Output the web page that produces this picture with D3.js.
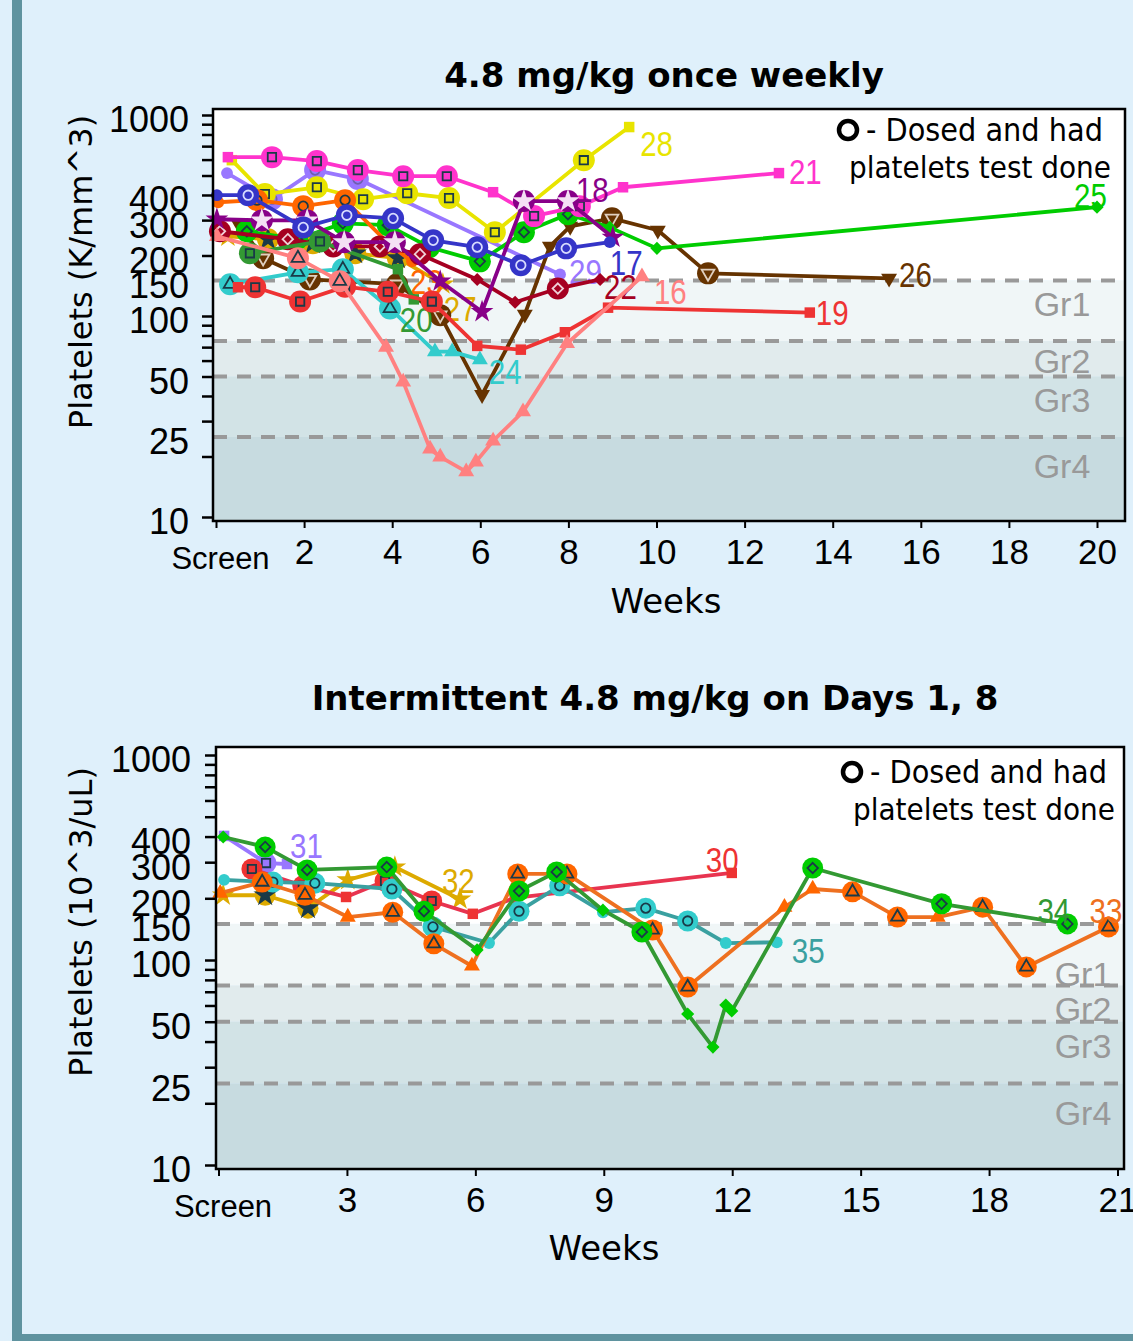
<!DOCTYPE html>
<html>
<head>
<meta charset="utf-8">
<script src="https://cdn.jsdelivr.net/npm/d3@7"></script>
<style>
  body { margin: 0; background: #dff0fb; }
  svg { display: block; }
  .tick text { font-family: "Liberation Sans", Arial, sans-serif; fill: #000; }
</style>
</head>
<body>
<div id="chart"></div>
<script>
// each point: [week, platelets, dosed (1 = ringed marker)]
// --- 4.8 mg/kg once weekly ---
const p16 = [[0.02,249,0],[1.86,194,1],[2.81,149,1],[3.86,70,0],[4.25,47,0],[4.86,21.8,0],[5.09,19.9,0],[5.68,16.8,0],[5.90,18.8,0],[6.29,23.9,0],[6.97,33.4,0],[7.97,73,0],[9.67,157,0]];
const p17 = [[0.02,399,0],[0.73,399,1],[1.98,276,1],[2.97,317,1],[4.02,306,1],[4.93,238,1],[5.93,220,1],[6.92,179,1],[7.95,217,1],[8.94,233,0]];
const p18 = [[0.02,303,0],[1.04,299,1],[2.07,299,1],[2.91,233,1],[4.06,233,1],[5.09,149,0],[6.04,105,0],[6.99,373,1],[7.99,373,1],[9.01,246,0]];
const p19 = [[0.50,139,0],[0.89,139,1],[1.91,118,1],[2.93,140,1],[3.90,132,1],[4.90,118,1],[5.93,71,0],[6.92,68,0],[7.92,83,0],[8.90,110,0],[13.48,104,0]];
const p20 = [[0.77,205,1],[2.36,235,1],[4.13,171,0],[4.49,121,0]];
const p21 = [[0.27,617,0],[1.27,617,1],[2.29,590,1],[3.22,532,1],[4.25,496,1],[5.24,496,1],[6.29,413,0],[7.22,314,1],[8.26,352,1],[9.24,437,0],[12.78,514,0]];
const p22 = [[0.09,264,1],[1.63,241,1],[2.66,222,1],[3.72,222,1],[4.63,203,1],[5.93,152,0],[6.79,117,0],[7.76,137,1],[8.72,152,0]];
const p23 = [[0.05,368,0],[0.93,377,1],[1.98,352,1],[2.93,377,1],[3.95,225,0],[4.45,187,0]];
const p24 = [[0.32,144,1],[1.86,165,1],[2.88,171,1],[3.95,109,1],[4.97,66.5,0],[5.36,66.5,0],[5.99,60.7,0]];
const p25 = [[0.70,264,1],[1.84,241,1],[2.88,289,1],[3.90,283,1],[4.84,220,1],[5.99,187,1],[6.99,261,1],[7.99,321,1],[8.94,276,0],[10.01,217,0],[20.0,348,0]];
const p26 = [[0.50,290,0],[1.07,194,1],[2.13,152,1],[4.11,144,1],[5.09,101,1],[6.04,40.6,0],[7.01,102,0],[7.58,222,0],[8.04,279,0],[8.99,306,1],[10.03,267,0],[11.17,163,1],[15.28,154,0]];
const p27 = [[0.27,249,0],[1.18,241,1],[2.20,230,1],[3.16,205,1],[4.13,194,1],[5.15,144,0]];
const p28 = [[0.36,596,0],[1.11,404,1],[2.29,437,1],[3.34,381,1],[4.34,408,1],[5.29,386,1],[6.33,261,1],[8.35,596,1],[9.38,871,0]];
const p29 = [[0.25,514,0],[1.27,381,1],[2.25,532,1],[3.22,480,1],[7.81,161,0]];

// --- Intermittent 4.8 mg/kg on Days 1, 8 ---
const p30 = [[0.78,278,1],[1.97,230,1],[2.98,203,0],[3.89,243,1],[4.98,194,1],[5.94,168,0],[6.92,201,0],[11.99,266,0]];
const p31 = [[0.13,403,0],[1.11,297,1],[1.60,294,0]];
const p32 = [[0.11,207,0],[1.09,207,1],[2.09,179,1],[3.02,246,0],[4.12,284,0],[5.64,198,0]];
const p33 = [[0.04,212,0],[1.02,240,1],[2.02,207,1],[3.02,162,0],[4.07,171,1],[5.03,120,1],[5.92,93.5,0],[6.99,263,1],[8.14,263,1],[10.14,140,1],[10.96,73.8,1],[13.22,181,0],[13.88,222,0],[14.81,215,1],[15.86,162,1],[16.80,162,0],[17.85,181,1],[18.87,92.5,1],[20.79,145,1]];
const p34 = [[0.11,398,0],[1.09,356,1],[2.07,275,1],[3.93,284,1],[4.80,173,1],[6.04,112,0],[7.02,217,1],[7.90,269,1],[8.98,175,0],[9.89,137,1],[10.96,54.5,0],[11.55,37.6,0],[11.85,60.3,0],[11.99,56.4,0],[13.88,281,1],[16.89,188,1],[19.83,150,1]];
const p35 = [[0.13,246,0],[1.27,240,1],[2.25,237,1],[4.05,222,1],[5.01,145,1],[6.32,121,0],[7.02,173,1],[7.97,230,1],[8.98,171,0],[9.98,179,1],[10.96,155,1],[11.85,121,0],[13.04,122,0]];

const gradeCuts = [150, 75, 50, 25];
const gradeNames = ['Gr1', 'Gr2', 'Gr3', 'Gr4'];
const yLabelTicks = [10, 25, 50, 75, 100, 150, 200, 300, 400, 1000];
const yMinorTicks = [10,20,30,40,50,60,70,80,90,100,200,300,400,500,600,700,800,900,1000];
const xTicksTop = [0, 2, 4, 6, 8, 10, 12, 14, 16, 18, 20];
const xTicksBottom = [0, 3, 6, 9, 12, 15, 18, 21];

const W = 1133, H = 1341;
const svg = d3.select('#chart').append('svg').attr('width', W).attr('height', H);

svg.append('rect').attr('width', W).attr('height', H).attr('fill', '#dff0fb');
svg.append('rect').attr('x', 12).attr('y', 0).attr('width', 10).attr('height', H).attr('fill', '#5f939f');
svg.append('rect').attr('x', 12).attr('y', 1334).attr('width', W - 12).attr('height', 7).attr('fill', '#5f939f');

const bandFill = ['#ffffff', '#f0f6f7', '#e1ebed', '#d2e3e6', '#c7dbe0'];

const symbolTypes = {
  square: d3.symbolSquare,
  circle: d3.symbolCircle,
  triangle: d3.symbolTriangle,
  tridown: d3.symbolTriangle,
  diamond: d3.symbolDiamond2 || d3.symbolDiamond,
  star: d3.symbolStar
};

function drawPanel(p) {
  const g = svg.append('g');
  const b = p.box;
  const x = d3.scaleLinear().domain([0, p.xMax]).range(p.xRange);
  const y = d3.scaleLog().domain([10, 1000]).range(p.yRange);

  // shaded grade bands
  const edges = [b.t].concat(gradeCuts.map(v => y(v)), [b.b]);
  for (let i = 0; i < edges.length - 1; i++) {
    g.append('rect')
      .attr('x', b.l).attr('y', edges[i])
      .attr('width', b.r - b.l).attr('height', edges[i + 1] - edges[i])
      .attr('fill', bandFill[i]);
  }
  g.selectAll('.cut').data(gradeCuts).enter().append('line')
    .attr('x1', b.l).attr('x2', b.r)
    .attr('y1', d => y(d)).attr('y2', d => y(d))
    .attr('stroke', '#999').attr('stroke-width', 4)
    .attr('stroke-dasharray', '14,10');

  g.selectAll('.grade').data(gradeNames).enter().append('text')
    .attr('x', p.gradeX).attr('y', (d, i) => y(p.gradeAt[i]))
    .attr('dy', '0.36em')
    .attr('text-anchor', 'middle')
    .style('font-family', '"Liberation Sans", Arial, sans-serif')
    .style('font-size', '34px')
    .attr('fill', '#999')
    .text(d => d);

  // series
  const line = d3.line().x(d => x(d[0])).y(d => y(d[1]));
  p.series.forEach(s => {
    const sg = g.append('g');
    sg.append('path').datum(s.data)
      .attr('d', line)
      .attr('fill', 'none')
      .attr('stroke', s.line || s.color)
      .attr('stroke-width', 3.8)
      .attr('stroke-linejoin', 'round');

    const type = symbolTypes[s.sym];
    const flip = s.sym === 'tridown' ? 'rotate(180)' : null;
    const pts = sg.selectAll('g.pt').data(s.data).enter().append('g')
      .attr('transform', d => `translate(${x(d[0])},${y(d[1])})`);

    pts.filter(d => !d[2]).append('path')
      .attr('d', d3.symbol().type(type).size(s.sym === 'star' ? 160 : 110)())
      .attr('transform', flip)
      .attr('fill', s.marker || s.color);

    const dosed = pts.filter(d => d[2]);
    dosed.append('circle').attr('r', p.ringR).attr('fill', s.marker || s.color);
    dosed.append('path')
      .attr('d', d3.symbol().type(type).size(s.sym === 'star' ? 100 : 70)())
      .attr('transform', flip)
      .attr('fill', s.sym === 'star' ? (s.inner || '#1a3a48') : 'none')
      .attr('stroke', s.inner || '#1a3a48')
      .attr('stroke-width', 1.8);

    const last = s.data[s.data.length - 1];
    sg.append('text')
      .attr('transform', `translate(${x(last[0]) + s.lab[0]},${y(last[1]) + s.lab[1]}) scale(0.82,1)`)
      .style('font-family', '"Liberation Sans", Arial, sans-serif')
      .style('font-size', '36px')
      .attr('fill', s.labColor || s.line || s.color)
      .text(s.id);
  });

  // frame
  g.append('rect')
    .attr('x', b.l).attr('y', b.t)
    .attr('width', b.r - b.l).attr('height', b.b - b.t)
    .attr('fill', 'none').attr('stroke', '#000').attr('stroke-width', 2.5);

  // axes
  const yAxis = g.append('g').attr('transform', `translate(${b.l},0)`)
    .call(d3.axisLeft(y).tickValues(yMinorTicks)
      .tickFormat(v => yLabelTicks.includes(v) ? v : '')
      .tickSize(11).tickPadding(p.yPad));
  yAxis.select('.domain').remove();
  yAxis.selectAll('.tick line').attr('stroke', '#000').attr('stroke-width', 2.5);
  yAxis.selectAll('.tick text').style('font-size', '36px').attr('dy', '0.47em');
  // labels 150 and 25 carry no tick mark
  g.append('g').attr('transform', `translate(${b.l},0)`)
    .call(d3.axisLeft(y).tickValues([25, 150]).tickFormat(v => v).tickSize(0).tickPadding(p.yPad + 11))
    .call(a => a.select('.domain').remove())
    .selectAll('.tick text').style('font-size', '36px').attr('dy', '0.47em');

  const xAxis = g.append('g').attr('transform', `translate(0,${b.b})`)
    .call(d3.axisBottom(x).tickValues(p.xTicks)
      .tickFormat(d => d === 0 ? 'Screen' : d)
      .tickSize(7).tickPadding(11));
  xAxis.select('.domain').remove();
  xAxis.selectAll('.tick line').attr('stroke', '#000').attr('stroke-width', 2);
  xAxis.selectAll('.tick text').style('font-size', '35px');
  xAxis.selectAll('.tick text').filter(d => d === 0)
    .style('font-size', '31px').attr('dy', '0.98em').attr('dx', '4');

  // titles
  g.append('text')
    .attr('x', p.titleX).attr('y', p.titleY)
    .attr('text-anchor', 'middle')
    .style('font-family', '"DejaVu Sans", sans-serif')
    .style('font-weight', 'bold')
    .style('font-size', '34px')
    .text(p.title);
  g.append('text')
    .attr('x', p.xLabX).attr('y', p.xLabY)
    .attr('text-anchor', 'middle')
    .style('font-family', '"DejaVu Sans", sans-serif')
    .style('font-size', '34px')
    .text('Weeks');
  g.append('text')
    .attr('transform', `translate(${p.yLabX},${p.yLabY}) rotate(-90)`)
    .attr('text-anchor', 'middle')
    .style('font-family', '"DejaVu Sans", sans-serif')
    .style('font-size', '32px')
    .text(p.yTitle);

  // legend
  const lg = g.append('g');
  lg.append('circle').attr('cx', p.leg[0]).attr('cy', p.leg[1]).attr('r', 9)
    .attr('fill', '#fff').attr('stroke', '#000').attr('stroke-width', 4.5);
  lg.append('text').attr('x', p.leg[0] + 18).attr('y', p.leg[1] + 11)
    .style('font-family', '"DejaVu Sans", sans-serif').style('font-stretch', 'condensed')
    .style('font-size', '32px').text('- Dosed and had');
  lg.append('text').attr('x', p.leg[0] + 1).attr('y', p.leg[1] + 48)
    .style('font-family', '"DejaVu Sans", sans-serif').style('font-stretch', 'condensed')
    .style('font-size', '31px').text('platelets test done');
}

drawPanel({
  title: '4.8 mg/kg once weekly', titleX: 664, titleY: 87,
  yTitle: 'Platelets (K/mm^3)', yLabX: 92, yLabY: 272,
  xLabX: 666, xLabY: 613,
  box: { l: 213, t: 109, r: 1125, b: 521 },
  xMax: 20, xRange: [216, 1097], yRange: [517, 115],
  xTicks: xTicksTop, yPad: 13, ringR: 11,
  gradeX: 1062, gradeAt: [115, 60, 38.5, 17.9],
  leg: [848, 130],
  series: [
    { id: '29', data: p29, color: '#9977ff', sym: 'circle', inner: '#6f5fb0', lab: [9, 10] },
    { id: '28', data: p28, color: '#e8e400', sym: 'square', lab: [11, 29] },
    { id: '27', data: p27, color: '#ddaa00', sym: 'star', lab: [1, 37] },
    { id: '26', data: p26, color: '#663300', sym: 'tridown', inner: '#e0d0c0', lab: [10, 9] },
    { id: '25', data: p25, color: '#00cc00', sym: 'diamond', lab: [-23, 1] },
    { id: '24', data: p24, color: '#33cccc', sym: 'triangle', lab: [9, 24] },
    { id: '23', data: p23, color: '#ff6600', sym: 'circle', lab: [-2, 33] },
    { id: '22', data: p22, color: '#a50021', sym: 'diamond', inner: '#f0d0d8', lab: [4, 20] },
    { id: '21', data: p21, color: '#ff33cc', sym: 'square', lab: [10, 11] },
    { id: '20', data: p20, color: '#339933', sym: 'square', lab: [-14, 33] },
    { id: '19', data: p19, color: '#ee3333', sym: 'square', lab: [6, 12] },
    { id: '18', data: p18, color: '#880088', sym: 'star', inner: '#f4e0f4', lab: [-37, -35] },
    { id: '17', data: p17, color: '#3535c8', sym: 'circle', inner: '#d8dcff', lab: [0, 33] },
    { id: '16', data: p16, color: '#ff8080', sym: 'triangle', lab: [12, 27] }
  ]
});

drawPanel({
  title: 'Intermittent 4.8 mg/kg on Days 1, 8', titleX: 655, titleY: 710,
  yTitle: 'Platelets (10^3/uL)', yLabX: 92, yLabY: 922,
  xLabX: 604, xLabY: 1260,
  box: { l: 216, t: 747, r: 1124, b: 1169 },
  xMax: 21, xRange: [218.5, 1117.5], yRange: [1165, 755],
  xTicks: xTicksBottom, yPad: 14, ringR: 10.5,
  gradeX: 1083, gradeAt: [86, 58, 38, 18],
  leg: [852, 772],
  series: [
    { id: '31', data: p31, color: '#9977ff', sym: 'square', lab: [3, -6] },
    { id: '32', data: p32, color: '#ddaa00', sym: 'star', lab: [-18, -6] },
    { id: '30', data: p30, color: '#ee3333', line: '#e83450', labColor: '#ee3333', sym: 'square', lab: [-26, -1] },
    { id: '35', data: p35, color: '#33cccc', line: '#3aa0a0', sym: 'circle', lab: [15, 21] },
    { id: '33', data: p33, color: '#ff6600', line: '#ee7020', sym: 'triangle', lab: [-19, -4] },
    { id: '34', data: p34, color: '#00cc00', line: '#339933', sym: 'diamond', lab: [-30, -1] }
  ]
});
</script>
</body>
</html>
